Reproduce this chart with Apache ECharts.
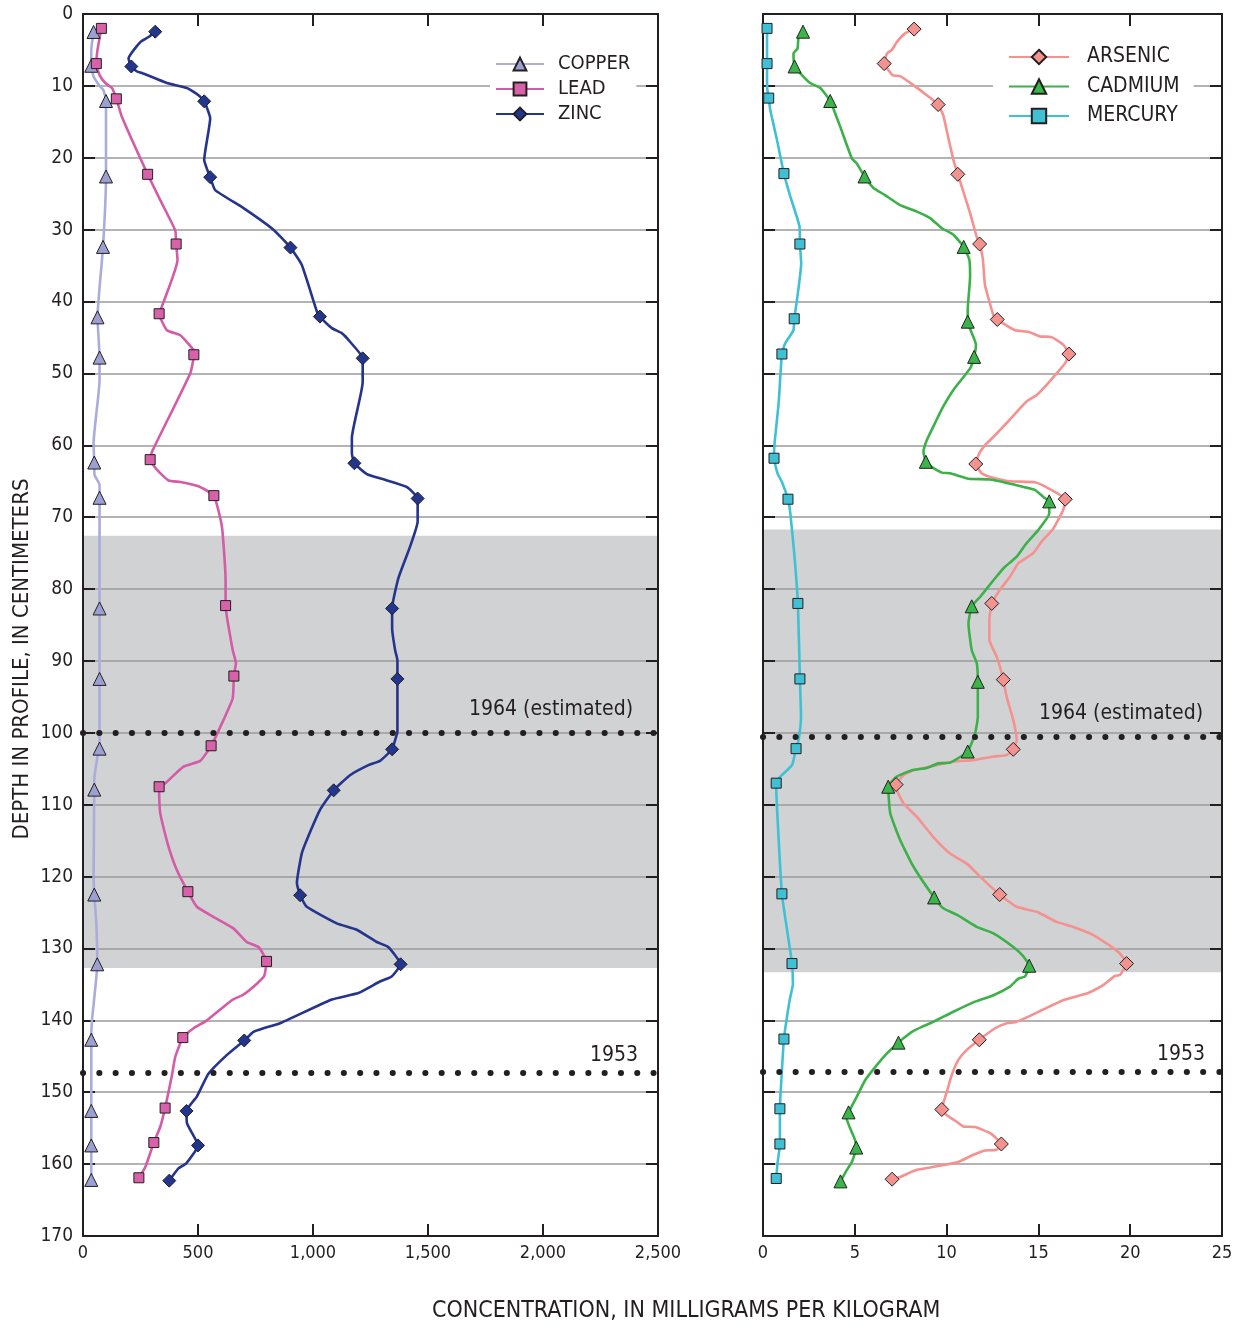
<!DOCTYPE html>
<html>
<head>
<meta charset="utf-8">
<script src="https://cdn.jsdelivr.net/npm/echarts@6/dist/echarts.min.js"></script>
<style>
html,body{margin:0;padding:0;background:#fff;}
#chart{width:1240px;height:1329px;}
</style>
</head>
<body>
<div id="chart"></div>
<script>
// ---------- DATA (depth in cm, concentration in mg/kg) ----------
const depthTicks = [0,10,20,30,40,50,60,70,80,90,100,110,120,130,140,150,160,170];
const leftXTicks = [0,500,1000,1500,2000,2500];
const rightXTicks = [0,5,10,15,20,25];

// Copper (markers)
const copperDepth = [2.5,7.2,12.1,22.6,32.4,42.2,47.8,62.4,67.3,82.7,92.5,102.2,107.9,122.5,132.2,142.7,152.6,157.4,162.2];
const copperValue = [46,36,100,100,87,63,72,49,72,72,72,72,49,49,62,36,36,36,36];
// Copper (profile line vertices between samples) [value, depth]
const copperPath = [[36,5.0],[46,8.7],[72,10.0],[89,10.6],[72,50.9],[46,59.7],[50,64.1],[72,65.5],[63,103.3],[49,106.6],[46,119.5],[58,126.5],[39,140.0]];

// Lead
const leadDepth = [2.0,6.9,11.8,22.3,32.0,41.7,47.4,62.0,67.0,82.3,92.1,101.8,107.5,122.1,131.8,142.4,152.2,157.0,161.9];
const leadValue = [80,58,145,281,405,331,482,292,569,620,656,557,331,456,798,434,357,308,243];
const leadPath = [[63,5.0],[72,8.5],[97,9.6],[126,10.3],[169,14.3],[336,25.9],[401,30.1],[411,34.2],[343,40.7],[365,44.0],[423,44.7],[480,46.7],[466,50.0],[300,60.9],[321,63.4],[372,64.9],[423,65.1],[502,65.7],[604,71.3],[620,78.7],[651,88.5],[665,90.3],[651,95.2],[611,98.2],[510,103.9],[437,104.7],[358,107.0],[336,111.2],[368,115.4],[408,119.1],[495,124.2],[567,125.6],[654,127.2],[712,129.1],[763,129.8],[788,133.8],[756,134.9],[698,136.4],[647,137.2],[539,140.0],[481,141.1],[401,145.1],[387,147.6],[336,154.8],[271,160.4]];

// Zinc
const zincDepth = [2.46,7.3,12.15,22.7,32.5,42.1,47.9,62.5,67.4,82.7,92.5,102.3,108.0,122.6,132.2,142.8,152.6,157.4,162.3];
const zincValue = [314,210,527,553,902,1030,1216,1180,1455,1344,1367,1344,1090,944,1381,701,450,500,375];
const zincPath = [[285,3.2],[249,3.9],[198,6.2],[235,8.0],[256,8.2],[365,9.6],[452,10.3],[502,11.3],[553,14.5],[527,20.3],[575,24.5],[698,27.0],[828,30.0],[951,34.9],[1017,41.4],[1082,43.7],[1125,44.4],[1161,45.6],[1216,51.2],[1169,59.0],[1169,61.1],[1234,64.0],[1313,64.8],[1407,65.8],[1455,70.6],[1422,74.1],[1371,78.5],[1344,85.5],[1357,88.5],[1367,89.9],[1367,99.8],[1357,101.0],[1291,103.9],[1241,104.5],[1161,105.9],[1031,110.7],[973,114.9],[951,116.8],[930,120.9],[973,124.2],[1103,126.5],[1190,127.4],[1277,129.1],[1327,129.8],[1342,133.9],[1291,134.6],[1197,136.2],[1082,137.1],[857,140.4],[785,141.1],[741,141.6],[626,144.8],[546,147.4],[495,150.6],[452,154.3],[449,159.9],[415,160.6]];

// Arsenic
const arsenicDepth = [2.1,6.9,12.6,22.3,32.0,42.5,47.3,62.6,67.5,82.0,92.6,102.3,107.2,122.5,132.1,142.7,152.4,157.2,162.1];
const arsenicValue = [8.23,6.60,9.54,10.61,11.80,12.76,16.66,11.59,16.46,12.46,13.09,13.63,7.25,12.89,19.80,11.78,9.74,12.98,7.03];
const arsenicPath = [[7.74,2.7],[7.29,3.9],[7.02,5.0],[6.75,5.5],[6.83,7.8],[7.07,8.55],[7.47,8.65],[8.19,9.9],[8.92,11.3],[9.82,14.1],[10.04,16.6],[10.37,20.3],[10.91,24.7],[11.28,27.7],[11.64,31.0],[11.97,34.0],[12.09,37.7],[12.33,40.0],[12.55,41.9],[13.73,44.0],[14.45,44.2],[15.09,44.85],[15.72,44.95],[16.35,46.0],[16.45,48.6],[15.99,50.0],[15.45,51.6],[14.91,53.0],[14.36,53.9],[13.91,55.1],[13.27,56.9],[12.64,58.6],[12.09,60.0],[11.78,61.1],[11.91,63.9],[12.37,64.4],[13.45,65.0],[14.81,65.15],[15.54,66.0],[16.35,69.0],[15.81,71.6],[15.18,73.4],[14.72,75.0],[13.91,76.4],[13.45,78.3],[12.91,80.1],[12.33,84.3],[12.33,87.1],[12.73,89.4],[13.27,95.0],[13.63,98.2],[13.82,101.0],[13.27,103.1],[12.55,103.3],[11.46,103.8],[10.37,104.0],[9.28,104.6],[8.19,105.2],[7.65,105.9],[7.29,108.0],[7.65,109.8],[8.38,111.7],[9.28,114.5],[10.19,116.8],[11.10,118.2],[11.82,120.0],[13.82,124.2],[14.91,124.9],[15.99,126.3],[16.90,127.0],[17.81,127.9],[18.71,129.3],[19.44,130.7],[19.44,133.7],[19.17,133.8],[18.53,135.1],[17.71,136.2],[16.35,137.2],[15.18,138.6],[13.82,140.2],[13.27,140.4],[12.64,141.1],[11.10,144.1],[10.64,145.5],[10.28,147.6],[10.04,149.7],[10.01,153.2],[10.55,154.1],[10.91,154.75],[11.55,154.85],[12.37,155.7],[12.73,158.0],[12.09,158.1],[11.46,158.7],[10.64,159.7],[9.47,160.3],[8.38,160.8],[7.47,161.8]];

// Cadmium
const cadmiumDepth = [2.46,7.3,12.1,22.6,32.4,42.8,47.7,62.3,67.8,82.4,92.9,102.6,107.5,122.9,132.4,143.1,152.8,157.7,162.4];
const cadmiumValue = [2.18,1.72,3.66,5.53,10.93,11.15,11.50,8.87,15.59,11.37,11.70,11.15,6.82,9.32,14.50,7.38,4.66,5.08,4.22];
const cadmiumPath = [[1.94,3.2],[1.88,4.8],[1.66,5.5],[2.12,8.5],[2.57,9.6],[3.12,10.3],[4.03,14.5],[4.21,15.7],[4.84,20.1],[5.11,20.8],[6.02,24.2],[6.65,25.2],[7.47,26.6],[8.38,27.5],[9.10,28.4],[9.74,29.8],[10.37,30.7],[11.24,34.2],[11.28,36.5],[11.15,41.2],[11.60,46.0],[11.28,49.3],[10.37,52.3],[9.82,54.6],[9.37,56.9],[8.92,59.3],[8.74,60.9],[9.19,63.0],[9.74,63.8],[10.19,63.9],[11.19,64.65],[12.37,64.75],[13.73,65.5],[14.81,66.2],[15.27,67.2],[15.59,69.5],[14.99,71.8],[14.36,73.6],[13.82,75.5],[13.18,76.9],[12.64,78.5],[11.82,81.1],[11.19,84.8],[11.37,88.5],[11.64,90.3],[11.70,97.8],[11.55,100.1],[10.19,104.15],[9.55,104.25],[8.92,104.9],[8.11,105.2],[7.29,106.1],[6.93,111.2],[7.47,114.9],[8.19,118.6],[9.82,124.4],[10.55,125.3],[11.64,127.0],[12.55,127.9],[13.63,129.8],[14.18,131.1],[14.27,133.9],[13.91,134.2],[13.45,135.3],[12.55,136.5],[11.55,137.4],[10.37,138.8],[9.28,140.2],[8.65,140.9],[8.11,141.6],[7.65,142.5],[6.75,144.6],[6.11,146.5],[5.57,148.3],[5.11,150.6],[4.53,153.4],[5.02,156.7],[4.84,159.7],[4.57,160.8]];

// Mercury
const mercuryDepth = [2.0,6.9,11.7,22.2,32.0,42.4,47.3,61.8,67.5,82.0,92.5,102.2,107.0,122.4,132.1,142.6,152.3,157.2,162.0];
const mercuryValue = [0.22,0.22,0.31,1.14,2.01,1.70,1.03,0.60,1.36,1.90,2.01,1.80,0.72,1.03,1.58,1.14,0.92,0.92,0.72];
const mercuryPath = [[0.22,10.1],[0.40,13.4],[0.76,17.5],[1.49,25.4],[1.99,29.6],[2.08,34.7],[1.85,39.8],[1.66,44.0],[1.21,45.8],[0.85,54.2],[0.63,59.7],[0.79,63.9],[1.03,65.1],[1.49,69.5],[1.70,75.0],[2.07,97.8],[1.94,101.0],[1.58,104.5],[0.94,106.1],[0.76,110.3],[1.31,127.4],[1.63,134.9],[1.45,137.2],[0.98,149.2],[0.79,159.9]];

// Shaded interval and dated horizons (depth, cm)
const leftBand = [72.6, 132.7];
const rightBand = [71.7, 133.3];
const leftHorizons = [{depth:100.0, text:'1964 (estimated)'}, {depth:147.3, text:'1953'}];
const rightHorizons = [{depth:100.5, text:'1964 (estimated)'}, {depth:147.2, text:'1953'}];

// ---------- CHART ----------
const FONT = "'Liberation Sans Narrow','Arial Narrow','DejaVu Sans Condensed','Roboto Condensed',sans-serif";
const INK = '#231f20';

function merge(depths, values, path) {
  const pts = values.map((v, i) => ({value: [v, depths[i]]}));
  const mids = path.map(p => ({value: [p[0], p[1]], symbol: 'none'}));
  return pts.concat(mids).sort((a, b) => a.value[1] - b.value[1]);
}

function profile(name, depths, values, path, xi, yi, symbol, size, lineColor, fill) {
  return {
    name: name, type: 'line', xAxisIndex: xi, yAxisIndex: yi,
    data: merge(depths, values, path),
    symbol: symbol, symbolSize: size, showSymbol: true, showAllSymbol: true,
    smooth: 0.15, z: 3,
    lineStyle: {color: lineColor, width: 2.6},
    itemStyle: {color: fill, borderColor: INK, borderWidth: 1},
    emphasis: {disabled: true}
  };
}

function guides(xi, yi, band, horizons, dists) {
  return {
    type: 'line', xAxisIndex: xi, yAxisIndex: yi, data: [], silent: true,
    markArea: {
      silent: true, z: -1,
      itemStyle: {color: '#d1d2d4'},
      data: [[{yAxis: band[0]}, {yAxis: band[1]}]]
    },
    markLine: {
      silent: true, symbol: ['none', 'none'], animation: false,
      lineStyle: {color: INK, width: 6, type: [0.1, 16.2], cap: 'round', opacity: 1},
      emphasis: {disabled: true},
      data: horizons.map((h, i) => ({
        yAxis: h.depth,
        label: {show: true, position: 'insideEndTop', formatter: h.text,
          fontFamily: FONT, fontSize: 21, color: INK, distance: dists[i]}
      }))
    }
  };
}

const thousands = v => v.toLocaleString('en-US');

function xAxes(grid, max, interval) {
  const common = {
    gridIndex: grid, type: 'value', min: 0, max: max, interval: interval,
    axisLine: {show: true, onZero: false, lineStyle: {color: INK, width: 2}},
    axisTick: {show: true, inside: true, length: 12, lineStyle: {color: INK, width: 2}},
    splitLine: {show: false}
  };
  return [
    Object.assign({}, common, {position: 'bottom',
      axisLabel: {show: true, margin: 8, fontFamily: FONT, fontSize: 18, color: INK, formatter: thousands}}),
    Object.assign({}, common, {position: 'top', axisLabel: {show: false}})
  ];
}

function yAxes(grid, withLabels) {
  const common = {
    gridIndex: grid, type: 'value', inverse: true, min: 0, max: 170, interval: 10,
    axisLine: {show: true, onZero: false, lineStyle: {color: INK, width: 2}},
    axisTick: {show: true, inside: true, length: 12, lineStyle: {color: INK, width: 2}}
  };
  const left = Object.assign({}, common, {
    position: 'left',
    splitLine: {show: true, lineStyle: {color: '#9a9a9a', width: 1.5}},
    axisLabel: {show: withLabels, margin: 10, fontFamily: FONT, fontSize: 19, color: INK}
  });
  const right = Object.assign({}, common, {position: 'right', splitLine: {show: false}, axisLabel: {show: false}});
  return [left, right];
}

const chart = echarts.init(document.getElementById('chart'), null, {renderer: 'canvas'});
chart.setOption({
  animation: false,
  backgroundColor: '#fff',
  textStyle: {fontFamily: FONT},
  title: {
    text: 'CONCENTRATION, IN MILLIGRAMS PER KILOGRAM', left: 432, top: 1300, padding: 0,
    textStyle: {fontFamily: FONT, fontSize: 23, fontWeight: 'normal', color: INK}
  },
  graphic: [{
    type: 'text', x: 22, y: 659, rotation: Math.PI / 2, silent: true,
    style: {text: 'DEPTH IN PROFILE, IN CENTIMETERS', font: "22px " + FONT, fill: INK,
      align: 'center', verticalAlign: 'middle'}
  }],
  grid: [
    {left: 83, top: 14, width: 575, height: 1222},
    {left: 763, top: 14, width: 459, height: 1222}
  ],
  xAxis: xAxes(0, 2500, 500).concat(xAxes(1, 25, 5)),
  yAxis: yAxes(0, true).concat(yAxes(1, false)),
  legend: [
    {
      data: ['COPPER', 'LEAD', 'ZINC'], orient: 'vertical', left: 490, top: 50,
      itemWidth: 48, itemHeight: 16, itemGap: 5, backgroundColor: '#fff', padding: [4, 6, 4, 5],
      selectedMode: false,
      textStyle: {fontFamily: FONT, fontSize: 20, lineHeight: 20, color: INK, padding: [0, 0, 0, 9]}
    },
    {
      data: ['ARSENIC', 'CADMIUM', 'MERCURY'], orient: 'vertical', left: 993, top: 42,
      itemWidth: 60, itemHeight: 18, itemGap: 7.5, backgroundColor: '#fff', padding: [4, 14, 4, 15],
      selectedMode: false,
      textStyle: {fontFamily: FONT, fontSize: 21, lineHeight: 22, color: INK, padding: [0, 0, 0, 13]}
    }
  ],
  series: [
    guides(0, 0, leftBand, leftHorizons, [[25, 13], [20, 7]]),
    guides(2, 2, rightBand, rightHorizons, [[19, 12], [17, 7]]),
    profile('COPPER', copperDepth, copperValue, copperPath, 0, 0, 'triangle', 13, '#aaaddb', '#9c9fd2'),
    profile('LEAD', leadDepth, leadValue, leadPath, 0, 0, 'rect', 10, '#d45ba6', '#d862aa'),
    profile('ZINC', zincDepth, zincValue, zincPath, 0, 0, 'diamond', 13, '#25348c', '#23368e'),
    profile('ARSENIC', arsenicDepth, arsenicValue, arsenicPath, 2, 2, 'diamond', 14, '#f5918f', '#f3938f'),
    profile('CADMIUM', cadmiumDepth, cadmiumValue, cadmiumPath, 2, 2, 'triangle', 13, '#3cb149', '#3ab54a'),
    profile('MERCURY', mercuryDepth, mercuryValue, mercuryPath, 2, 2, 'rect', 10, '#3fc1d5', '#3fc0d4')
  ]
});
</script>
</body>
</html>
